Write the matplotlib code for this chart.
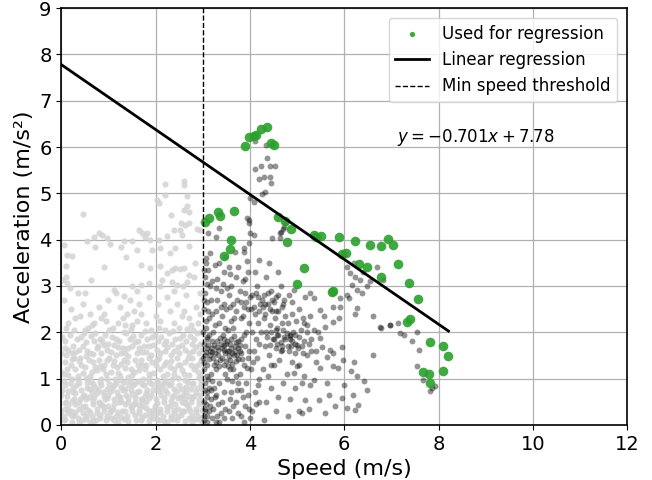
import numpy as np
import matplotlib
matplotlib.use("Agg")
import matplotlib.pyplot as plt

# regression fit
slope = -0.701
intercept = 7.78
min_speed = 3.0

# points used for the regression (speed m/s, acceleration m/s^2)
green_speed = [3.90, 3.97, 4.08, 4.13, 4.23, 4.36, 4.45, 4.52, 3.04, 3.14,
               3.32, 3.36, 3.67, 3.60, 3.57, 3.44, 4.59, 4.75, 4.87, 4.79,
               5.35, 5.40, 5.51, 5.89, 6.22, 6.55, 6.78, 6.93, 7.04, 5.96,
               6.04, 6.32, 6.49, 6.78, 5.15, 5.00, 5.74, 5.76, 7.15, 7.38,
               7.57, 7.40, 7.34, 7.82, 8.09, 8.21, 8.10, 7.66, 7.79, 7.82]
green_accel = [6.03, 6.21, 6.24, 6.27, 6.38, 6.44, 6.08, 6.05, 4.37, 4.47,
               4.60, 4.51, 4.61, 3.99, 3.79, 3.65, 4.48, 4.40, 4.22, 3.94,
               4.11, 4.06, 4.08, 4.05, 3.97, 3.89, 3.87, 4.01, 3.89, 3.69,
               3.71, 3.48, 3.40, 3.20, 3.39, 3.04, 2.86, 2.89, 3.47, 3.06,
               2.71, 2.29, 2.22, 1.79, 1.71, 1.49, 1.16, 1.13, 1.09, 0.90]

# samples above the speed threshold (not used in the fit)
dark_pts = [
    (3.02, 0.1), (3.05, 0.3), (3.1, 0.2), (3.03, 0.5), (3.08, 0.7), (3.15, 0.4), (3.2, 0.15), (3.05, 0.9), (3.12, 1.0), (3.02, 1.2),
    (3.1, 1.3), (3.18, 1.1), (3.05, 1.5), (3.15, 1.6), (3.22, 1.45), (3.03, 1.75), (3.1, 1.9), (3.2, 1.8), (3.06, 2.1), (3.14, 2.3),
    (3.03, 2.5), (3.1, 2.65), (3.2, 2.4), (3.05, 2.85), (3.15, 3.0), (3.04, 3.2), (3.12, 3.35), (3.2, 3.1), (3.06, 3.5), (3.1, 0.6),
    (3.24, 0.8), (3.22, 2.0), (3.18, 2.7), (3.25, 3.45), (3.12, 4.14), (3.16, 3.71), (3.04, 0.35), (3.08, 1.65), (3.13, 1.42), (3.17, 0.55),
    (3.3, 0.2), (3.4, 0.5), (3.35, 0.9), (3.28, 1.2), (3.45, 1.3), (3.32, 1.5), (3.4, 1.65), (3.48, 1.55), (3.3, 1.8), (3.42, 1.95),
    (3.35, 2.2), (3.28, 2.45), (3.45, 2.6), (3.38, 2.9), (3.3, 3.15), (3.45, 3.3), (3.35, 3.5), (3.48, 1.1), (3.27, 0.65), (3.44, 0.15),
    (3.36, 1.4), (3.5, 1.75), (3.3, 2.7), (3.47, 2.1), (3.34, 4.25), (3.27, 4.06), (3.48, 3.63), (3.33, 1.62), (3.44, 1.85), (3.29, 1.35),
    (3.55, 0.3), (3.6, 0.7), (3.7, 0.5), (3.52, 1.0), (3.65, 1.2), (3.58, 1.4), (3.72, 1.5), (3.55, 1.6), (3.68, 1.7), (3.6, 1.85),
    (3.75, 1.65), (3.53, 2.05), (3.66, 2.3), (3.58, 2.55), (3.72, 2.7), (3.6, 3.0), (3.7, 3.2), (3.55, 3.4), (3.62, 0.15), (3.74, 0.9),
    (3.7, 1.05), (3.64, 2.1), (3.56, 2.8), (3.69, 3.74), (3.63, 1.55), (3.57, 1.75), (3.71, 1.38), (3.66, 1.92), (3.53, 1.28), (3.74, 1.82),
    (3.8, 0.2), (3.85, 0.6), (3.9, 0.4), (3.78, 1.1), (3.88, 1.3), (3.95, 1.45), (3.8, 1.55), (3.9, 1.7), (3.98, 1.6), (3.82, 1.85),
    (3.92, 2.0), (3.85, 2.35), (3.96, 2.5), (3.8, 2.65), (3.9, 2.85), (3.85, 3.1), (3.95, 3.3), (3.87, 3.74), (3.94, 3.53), (3.92, 0.9),
    (3.87, 1.95), (3.99, 2.2), (3.97, 4.42), (3.97, 3.92), (3.87, 3.81), (3.94, 4.46), (3.97, 4.35), (3.84, 1.42), (3.93, 1.22), (3.79, 1.72),
    (4.05, 0.3), (4.1, 0.7), (4.2, 0.5), (4.02, 1.2), (4.15, 1.45), (4.08, 1.6), (4.2, 1.75), (4.05, 2.0), (4.18, 2.2), (4.1, 2.4),
    (4.22, 2.6), (4.05, 2.8), (4.15, 3.0), (4.1, 3.3), (4.2, 3.55), (4.08, 4.1), (4.01, 4.14), (4.01, 4.89), (4.08, 4.82), (4.2, 5.31),
    (4.23, 5.6), (4.11, 5.52), (4.2, 1.0), (4.02, 2.5), (4.24, 2.0), (4.12, 1.85), (4.06, 1.35), (4.17, 2.75), (4.25, 4.99), (4.11, 6.14),
    (4.3, 0.1), (4.35, 0.5), (4.45, 0.8), (4.28, 1.2), (4.4, 1.5), (4.32, 1.7), (4.48, 1.85), (4.35, 2.0), (4.42, 2.15), (4.3, 2.3),
    (4.47, 2.45), (4.38, 2.6), (4.3, 2.8), (4.45, 2.9), (4.35, 3.2), (4.4, 3.5), (4.47, 4.03), (4.29, 5.36), (4.42, 5.35), (4.45, 5.22),
    (4.43, 5.58), (4.36, 5.76), (4.35, 6.04), (4.32, 5.02), (4.27, 2.55), (4.44, 1.3), (4.37, 1.9), (4.33, 2.4), (4.46, 2.7), (4.39, 1.05),
    (4.55, 0.3), (4.6, 0.6), (4.7, 0.9), (4.52, 1.3), (4.65, 1.6), (4.58, 1.75), (4.72, 1.9), (4.55, 2.05), (4.68, 2.2), (4.6, 2.45),
    (4.7, 2.6), (4.55, 2.75), (4.65, 3.0), (4.6, 3.3), (4.54, 5.58), (4.64, 4.14), (4.64, 4.03), (4.71, 4.24), (4.75, 4.35), (4.66, 4.17),
    (4.73, 4.28), (4.62, 1.4), (4.74, 2.35), (4.57, 1.95), (4.69, 1.7), (4.53, 2.3),
    (4.8, 0.2), (4.85, 0.55), (4.95, 0.8), (4.78, 1.1), (4.9, 1.35), (4.82, 1.6), (4.95, 1.75), (4.85, 1.85), (4.92, 2.0), (4.8, 2.2),
    (4.9, 2.4), (4.98, 2.25), (4.82, 2.8), (4.89, 2.66), (4.93, 2.91), (4.99, 1.26), (4.93, 1.12), (4.88, 1.7), (4.84, 1.95), (4.96, 1.55),
    (5.05, 0.3), (5.1, 0.25), (5.17, 0.54), (5.25, 0.35), (5.1, 0.9), (5.35, 0.97), (5.28, 0.86), (5.05, 1.3), (5.2, 1.5), (5.4, 1.6),
    (5.1, 1.7), (5.3, 1.85), (5.45, 2.0), (5.15, 2.2), (5.28, 2.34), (5.35, 2.05), (5.05, 1.9), (5.2, 2.0), (5.12, 1.55), (5.25, 1.75),
    (5.28, 2.84), (5.35, 2.73), (5.17, 2.77), (5.49, 2.48), (5.49, 1.87), (5.46, 0.54), (5.49, 1.22), (5.4, 1.35), (5.05, 2.5), (5.15, 1.05),
    (5.53, 1.69), (5.56, 2.34), (5.6, 2.12), (5.63, 1.47), (5.63, 0.9), (5.67, 0.65), (5.7, 1.62), (5.77, 2.23), (5.77, 1.55), (5.77, 1.26),
    (5.77, 2.55), (5.86, 1.22), (5.88, 2.3), (5.92, 2.55), (5.92, 2.73), (5.95, 1.69), (5.97, 1.39), (5.95, 0.58), (5.6, 0.25), (5.8, 0.4),
    (6.0, 0.86), (6.06, 0.36), (6.18, 0.65), (6.23, 0.32), (6.3, 0.43), (6.14, 1.17), (6.2, 1.35), (6.27, 1.06), (6.41, 0.94), (6.48, 0.76),
    (6.06, 2.81), (6.09, 2.73), (6.13, 3.27), (6.23, 3.2), (6.34, 3.13), (6.27, 2.91), (6.37, 2.84), (6.16, 3.02), (6.48, 2.99), (6.27, 2.52),
    (6.23, 2.39), (6.05, 3.4), (6.2, 3.5), (6.4, 3.3),
    (6.62, 2.34), (6.75, 2.11), (6.96, 2.16), (7.15, 2.19), (6.78, 2.09), (6.97, 2.16), (7.19, 1.98), (7.27, 1.94), (7.43, 1.81), (7.54, 2.01),
    (7.58, 1.62), (7.54, 1.27), (7.66, 0.96), (7.81, 0.72), (7.93, 0.84), (7.86, 0.8), (6.55, 3.1), (6.7, 3.4), (6.6, 1.5), (6.83, 3.13),
    # dense core near the threshold
    (3.03, 1.35), (3.07, 1.58), (3.11, 1.72), (3.16, 1.5), (3.19, 1.65), (3.23, 1.3), (3.26, 1.55), (3.31, 1.68), (3.34, 1.28), (3.38, 1.75),
    (3.41, 1.45), (3.46, 1.62), (3.49, 1.38), (3.52, 1.82), (3.55, 1.48), (3.6, 1.65), (3.63, 1.32), (3.67, 1.5), (3.71, 1.78), (3.75, 1.42),
    (3.08, 1.85), (3.14, 1.95), (3.24, 1.72), (3.36, 1.88), (3.51, 1.6), (3.69, 1.6), (3.2, 1.58), (3.45, 1.72), (3.58, 1.2), (3.78, 1.6),
    (3.02, 0.2), (3.06, 0.45), (3.04, 0.75), (3.09, 1.05), (3.01, 1.45), (3.07, 2.25), (3.03, 2.7), (3.08, 3.05), (3.02, 3.35), (3.1, 0.05),
    (3.13, 0.8), (3.01, 2.0), (3.11, 2.45), (3.06, 3.6), (3.14, 0.3),
    (3.22, 0.35), (3.28, 0.05), (3.32, 0.45), (3.18, 0.75), (3.25, 0.6), (3.38, 0.25), (3.45, 0.7), (3.2, 0.95),
    (4.42, 1.72), (4.5, 1.85), (4.55, 1.65), (4.6, 1.95), (4.65, 1.78), (4.7, 2.05), (4.75, 1.85), (4.8, 1.7), (4.85, 1.92), (4.9, 1.8),
    (4.95, 1.95), (5.0, 1.72), (4.45, 2.0), (4.58, 2.1), (4.78, 1.98), (4.68, 1.62),
    (3.92, 2.65), (4.0, 2.75), (4.08, 2.55), (4.13, 2.85), (4.2, 2.45), (4.25, 2.7), (4.32, 2.6), (4.38, 2.85), (4.42, 2.5), (4.5, 2.65),
    (4.55, 2.45), (4.6, 2.8), (4.67, 2.55), (4.72, 2.7),
    (3.4, 2.35), (3.5, 2.5), (3.6, 2.25), (3.7, 2.45), (3.8, 2.3), (3.88, 2.55),
    (3.65, 0.4), (3.75, 0.25), (3.82, 0.75), (3.95, 0.65), (4.0, 0.15), (4.12, 0.45), (3.58, 0.55), (4.18, 0.85),
    (5.02, 1.65), (5.08, 2.05), (5.15, 1.82), (5.22, 2.15), (5.3, 1.6), (5.12, 2.3),
    (3.25, 2.15), (3.38, 2.55), (3.52, 2.95), (3.65, 2.6), (3.78, 2.9), (3.42, 3.05), (3.58, 3.25), (3.75, 3.4), (3.28, 2.95), (3.9, 3.15),
    (3.48, 0.35), (3.62, 0.95), (3.72, 0.75), (3.88, 0.05), (3.98, 0.35), (3.35, 0.05),
]

# samples below the speed threshold
light_pts = [
    (0.05, 0.1), (0.2, 0.3), (0.35, 0.15), (0.5, 0.4), (0.65, 0.2), (0.8, 0.5), (0.95, 0.1), (1.1, 0.35), (1.25, 0.6), (1.4, 0.2),
    (1.55, 0.45), (1.7, 0.1), (1.85, 0.3), (2.0, 0.55), (2.15, 0.2), (2.3, 0.4), (2.45, 0.1), (2.6, 0.3), (2.75, 0.5), (2.9, 0.2),
    (0.1, 0.5), (0.25, 0.7), (0.4, 0.55), (0.55, 0.8), (0.7, 0.6), (0.85, 0.85), (1.0, 0.65), (1.15, 0.9), (1.3, 0.75), (1.45, 0.95),
    (1.6, 0.7), (1.75, 0.85), (1.9, 0.65), (2.05, 0.9), (2.2, 0.75), (2.35, 0.6), (2.5, 0.85), (2.65, 0.7), (2.8, 0.9), (2.95, 0.65),
    (0.15, 0.25), (0.3, 0.45), (0.45, 0.25), (0.6, 0.05), (0.75, 0.35), (0.9, 0.3), (1.05, 0.15), (1.2, 0.05), (1.35, 0.45), (1.5, 0.3),
    (1.65, 0.25), (1.8, 0.5), (1.95, 0.15), (2.1, 0.35), (2.25, 0.05), (2.4, 0.25), (2.55, 0.5), (2.7, 0.15), (2.85, 0.35), (2.98, 0.05),
    (0.02, 0.75), (0.18, 0.9), (0.32, 0.85), (0.48, 0.65), (0.62, 0.95), (0.78, 0.75), (0.92, 0.55), (1.08, 0.8), (1.22, 0.5), (1.38, 0.65),
    (1.52, 0.85), (1.68, 0.55), (1.82, 0.75), (1.98, 0.4), (2.12, 0.65), (2.28, 0.85), (2.42, 0.45), (2.58, 0.65), (2.72, 0.3), (2.88, 0.8),
    (0.08, 0.35), (0.22, 0.05), (0.38, 0.35), (0.52, 0.2), (0.68, 0.45), (0.82, 0.15), (0.98, 0.4), (1.12, 0.55), (1.28, 0.3), (1.42, 0.5),
    (1.58, 0.1), (1.72, 0.4), (1.88, 0.2), (2.02, 0.25), (2.18, 0.5), (2.32, 0.2), (2.48, 0.35), (2.62, 0.55), (2.78, 0.2), (2.92, 0.45),
    (0.12, 0.62), (0.28, 0.55), (0.42, 0.75), (0.58, 0.6), (0.72, 0.82), (0.88, 0.7), (1.02, 0.88), (1.18, 0.7), (1.32, 0.92), (1.48, 0.75),
    (1.62, 0.95), (1.78, 0.62), (1.92, 0.88), (2.08, 0.72), (2.22, 0.95), (2.38, 0.78), (2.52, 0.6), (2.68, 0.92), (2.82, 0.62), (2.96, 0.88),
    (0.03, 0.18), (0.14, 0.42), (0.27, 0.22), (0.44, 0.1), (0.57, 0.32), (0.74, 0.1), (0.87, 0.42), (1.04, 0.28), (1.17, 0.2), (1.34, 0.12),
    (1.47, 0.38), (1.64, 0.42), (1.77, 0.22), (1.94, 0.32), (2.07, 0.1), (2.24, 0.3), (2.37, 0.12), (2.54, 0.22), (2.67, 0.42), (2.84, 0.12),
    (0.06, 0.95), (0.24, 0.8), (0.36, 0.98), (0.54, 0.9), (0.66, 0.7), (0.84, 0.98), (0.96, 0.78), (1.14, 0.98), (1.26, 0.82), (1.44, 0.85),
    (1.56, 0.6), (1.74, 0.98), (1.86, 0.92), (2.04, 0.8), (2.16, 0.85), (2.34, 0.98), (2.46, 0.72), (2.64, 0.82), (2.76, 0.78), (2.94, 0.98),
    (0.07, 0.12), (0.22, 0.18), (0.37, 0.07), (0.52, 0.13), (0.67, 0.08), (0.82, 0.22), (0.97, 0.2), (1.12, 0.1), (1.27, 0.17), (1.42, 0.08),
    (1.57, 0.22), (1.72, 0.17), (1.87, 0.08), (2.02, 0.12), (2.17, 0.08), (2.32, 0.12), (2.47, 0.2), (2.62, 0.08), (2.77, 0.07), (2.92, 0.12),
    (0.0, 0.3), (0.15, 0.33), (0.3, 0.28), (0.45, 0.38), (0.6, 0.27), (0.75, 0.25), (0.9, 0.38), (1.05, 0.33), (1.2, 0.27), (1.35, 0.3),
    (1.5, 0.4), (1.65, 0.33), (1.8, 0.37), (1.95, 0.25), (2.1, 0.27), (2.25, 0.38), (2.4, 0.33), (2.55, 0.3), (2.7, 0.37), (2.85, 0.28),
    (2.99, 0.33), (0.07, 0.47), (0.22, 0.52), (0.37, 0.48), (0.52, 0.55), (0.67, 0.52), (0.82, 0.45), (0.97, 0.57), (1.12, 0.45), (1.27, 0.52),
    (1.42, 0.58), (1.57, 0.5), (1.72, 0.53), (1.87, 0.57), (2.02, 0.47), (2.17, 0.58), (2.32, 0.52), (2.47, 0.57), (2.62, 0.47), (2.77, 0.58),
    (2.92, 0.53), (0.0, 0.65), (0.15, 0.72), (0.3, 0.68), (0.45, 0.62), (0.6, 0.77), (0.75, 0.68), (0.9, 0.63), (1.05, 0.72), (1.2, 0.62),
    (1.35, 0.78), (1.5, 0.67), (1.65, 0.72), (1.8, 0.68), (1.95, 0.75), (2.1, 0.8), (2.25, 0.68), (2.4, 0.65), (2.55, 0.77), (2.7, 0.62),
    (2.85, 0.7), (2.99, 0.77), (0.07, 0.87), (0.22, 1.0), (0.37, 0.9), (0.52, 1.02), (0.67, 0.88), (0.82, 0.92), (0.97, 1.0), (1.12, 0.85),
    (1.27, 0.97), (1.42, 1.03), (1.57, 0.9), (1.72, 0.88), (1.87, 1.02), (2.02, 0.97), (2.17, 0.92), (2.32, 0.88), (2.47, 1.02), (2.62, 0.97),
    (2.77, 0.88), (2.92, 1.03),
    (0.05, 1.1), (0.2, 1.3), (0.35, 1.05), (0.5, 1.25), (0.65, 1.15), (0.8, 1.4), (0.95, 1.1), (1.1, 1.3), (1.25, 1.05), (1.4, 1.35),
    (1.55, 1.15), (1.7, 1.4), (1.85, 1.1), (2.0, 1.3), (2.15, 1.05), (2.3, 1.25), (2.45, 1.45), (2.6, 1.1), (2.75, 1.3), (2.9, 1.15),
    (0.1, 1.5), (0.25, 1.7), (0.4, 1.45), (0.55, 1.6), (0.7, 1.8), (0.85, 1.55), (1.0, 1.75), (1.15, 1.5), (1.3, 1.65), (1.45, 1.85),
    (1.6, 1.55), (1.75, 1.7), (1.9, 1.5), (2.05, 1.8), (2.2, 1.6), (2.35, 1.75), (2.5, 1.55), (2.65, 1.8), (2.8, 1.6), (2.95, 1.75),
    (0.02, 1.9), (0.18, 1.95), (0.33, 1.85), (0.48, 1.98), (0.62, 1.92), (0.78, 1.7), (0.92, 1.95), (1.08, 1.9), (1.22, 1.8), (1.38, 1.98),
    (1.52, 1.92), (1.68, 1.95), (1.82, 1.85), (1.98, 1.95), (2.12, 1.9), (2.28, 1.98), (2.42, 1.85), (2.58, 1.95), (2.72, 1.92), (2.88, 1.98),
    (0.12, 1.2), (0.28, 1.45), (0.42, 1.3), (0.58, 1.4), (0.72, 1.25), (0.88, 1.2), (1.02, 1.45), (1.18, 1.25), (1.32, 1.4), (1.48, 1.2),
    (1.62, 1.3), (1.78, 1.2), (1.92, 1.35), (2.08, 1.45), (2.22, 1.35), (2.38, 1.1), (2.52, 1.3), (2.68, 1.45), (2.82, 1.2), (2.97, 1.4),
    (0.07, 1.65), (0.22, 1.55), (0.37, 1.62), (0.52, 1.78), (0.67, 1.52), (0.82, 1.85), (0.97, 1.62), (1.12, 1.72), (1.27, 1.55), (1.42, 1.65),
    (1.57, 1.78), (1.72, 1.58), (1.87, 1.7), (2.02, 1.62), (2.17, 1.75), (2.32, 1.5), (2.47, 1.68), (2.62, 1.62), (2.77, 1.75), (2.92, 1.55),
    (0.0, 1.15), (0.15, 1.08), (0.3, 1.2), (0.45, 1.12), (0.6, 1.05), (0.75, 1.18), (0.9, 1.3), (1.05, 1.15), (1.2, 1.12), (1.35, 1.22),
    (1.5, 1.08), (1.65, 1.18), (1.8, 1.3), (1.95, 1.12), (2.1, 1.2), (2.25, 1.1), (2.4, 1.2), (2.55, 1.18), (2.7, 1.08), (2.85, 1.28),
    (2.99, 1.1), (0.07, 1.35), (0.22, 1.42), (0.37, 1.38), (0.52, 1.48), (0.67, 1.35), (0.82, 1.28), (0.97, 1.4), (1.12, 1.38), (1.27, 1.32),
    (1.42, 1.48), (1.57, 1.4), (1.72, 1.3), (1.87, 1.45), (2.02, 1.4), (2.17, 1.3), (2.32, 1.38), (2.47, 1.3), (2.62, 1.35), (2.77, 1.45),
    (2.92, 1.32), (0.0, 1.55), (0.15, 1.62), (0.3, 1.58), (0.45, 1.7), (0.6, 1.55), (0.75, 1.65), (0.9, 1.72), (1.05, 1.58), (1.2, 1.68),
    (1.35, 1.55), (1.5, 1.7), (1.65, 1.65), (1.8, 1.58), (1.95, 1.72), (2.1, 1.55), (2.25, 1.68), (2.4, 1.6), (2.55, 1.72), (2.7, 1.55),
    (2.85, 1.68), (2.99, 1.62), (0.07, 1.82), (0.27, 2.05), (0.42, 1.9), (0.57, 2.1), (0.72, 1.98), (0.87, 1.8), (1.02, 2.05), (1.17, 1.85),
    (1.32, 2.0), (1.47, 2.08), (1.62, 1.82), (1.77, 2.02), (1.92, 1.9), (2.07, 2.1), (2.22, 1.82), (2.37, 2.02), (2.52, 1.88), (2.67, 2.08),
    (2.82, 1.85), (2.97, 2.0),
    (0.1, 2.1), (0.3, 2.3), (0.5, 2.05), (0.7, 2.2), (0.9, 2.4), (1.1, 2.1), (1.3, 2.3), (1.5, 2.15), (1.7, 2.4), (1.9, 2.05),
    (2.1, 2.25), (2.3, 2.45), (2.5, 2.1), (2.7, 2.3), (2.9, 2.2), (0.2, 2.5), (0.45, 2.6), (0.8, 2.55), (1.0, 2.7), (1.25, 2.55),
    (1.45, 2.7), (1.65, 2.6), (1.85, 2.75), (2.05, 2.6), (2.25, 2.75), (2.45, 2.6), (2.65, 2.8), (2.85, 2.55), (0.6, 2.4), (1.55, 2.45),
    (2.2, 2.05), (2.6, 2.45), (0.35, 2.85), (1.15, 2.85), (2.4, 2.9), (2.95, 2.85), (0.05, 2.7), (1.35, 2.15), (0.95, 2.25), (2.8, 2.05),
    (0.15, 2.2), (0.4, 2.35), (0.65, 2.15), (0.85, 2.3), (1.2, 2.2), (1.4, 2.4), (1.6, 2.25), (1.8, 2.2), (2.0, 2.35), (2.4, 2.2),
    (2.55, 2.35), (2.75, 2.15), (2.95, 2.4),
    (2.2, 5.21), (2.61, 5.27), (2.61, 5.18), (2.2, 4.96), (2.67, 4.94), (2.02, 4.86), (2.07, 4.8), (0.46, 4.55), (2.67, 4.73), (2.61, 4.64),
    (2.7, 4.6), (2.33, 4.53), (2.54, 4.35), (2.63, 4.32), (2.7, 4.35), (2.88, 4.24), (2.94, 4.21), (2.38, 4.21), (2.52, 4.21), (2.56, 4.1),
    (2.24, 4.08), (1.64, 4.21), (1.71, 4.14), (1.82, 4.14), (1.78, 4.06), (0.79, 4.15), (0.86, 4.1), (0.69, 4.06), (0.97, 4.03), (0.55, 3.98),
    (1.32, 3.98), (1.5, 3.98), (1.89, 3.99), (2.07, 3.99), (0.72, 3.85), (1.04, 3.91), (1.27, 3.83), (1.61, 3.78), (1.92, 3.78), (2.1, 3.81),
    (2.31, 3.71), (2.42, 3.81), (2.7, 3.86), (0.05, 3.89), (0.23, 3.65), (0.12, 3.67), (1.38, 3.62), (1.68, 3.45), (1.89, 3.38), (0.9, 3.4),
    (0.09, 3.42), (0.62, 3.13), (2.1, 3.42), (2.24, 3.27), (2.35, 3.35), (2.42, 3.38), (2.52, 3.36), (2.61, 3.38), (2.7, 3.24), (2.81, 3.2),
    (2.84, 3.49), (0.09, 3.2), (0.02, 3.13), (0.12, 3.06), (0.19, 2.95), (1.68, 3.02), (1.85, 3.06), (2.13, 3.13), (2.35, 3.09), (2.45, 3.02),
    (2.59, 2.99), (2.67, 3.09), (2.1, 2.99), (1.61, 2.9), (1.5, 2.99), (1.11, 2.91), (0.51, 2.84), (1.32, 2.79),
]

light = np.array(light_pts)
dark = np.array(dark_pts)

fig, ax = plt.subplots(figsize=(6.52, 4.8), dpi=100)
fig.subplots_adjust(left=0.094, right=0.962, top=0.983, bottom=0.115)

ax.scatter(light[:, 0], light[:, 1], s=20, color="lightgray", alpha=0.85, linewidths=0, zorder=2)
ax.scatter(dark[:, 0], dark[:, 1], s=18, color="black", alpha=0.42, linewidths=0, zorder=2)
ax.scatter(green_speed, green_accel, s=48, color="tab:green", alpha=0.9, linewidths=0,
           zorder=3, label="Used for regression")

x_fit = np.array([0.0, max(green_speed)])
ax.plot(x_fit, slope * x_fit + intercept, color="black", lw=2, zorder=4, label="Linear regression")
ax.axvline(min_speed, color="black", ls="--", lw=1, zorder=4, label="Min speed threshold")

ax.text(7.12, 6.2, f"$y = {slope:.3f}x + {intercept:.2f}$", fontsize=12, va="center", zorder=5)

ax.set_xlim(0, 12)
ax.set_ylim(0, 9)
ax.set_xticks(range(0, 13, 2))
ax.set_yticks(range(0, 10))
ax.tick_params(labelsize=14)
ax.set_xlabel("Speed (m/s)", fontsize=16)
ax.set_ylabel("Acceleration (m/s²)", fontsize=16)
ax.grid(True, color="#b0b0b0", lw=0.9, zorder=0)
ax.set_axisbelow(True)
for sp in ax.spines.values():
    sp.set_linewidth(1.2)

ax.legend(loc="upper right", fontsize=12, markerscale=0.55, borderaxespad=0.6)

fig.savefig("out.png", dpi=100)
